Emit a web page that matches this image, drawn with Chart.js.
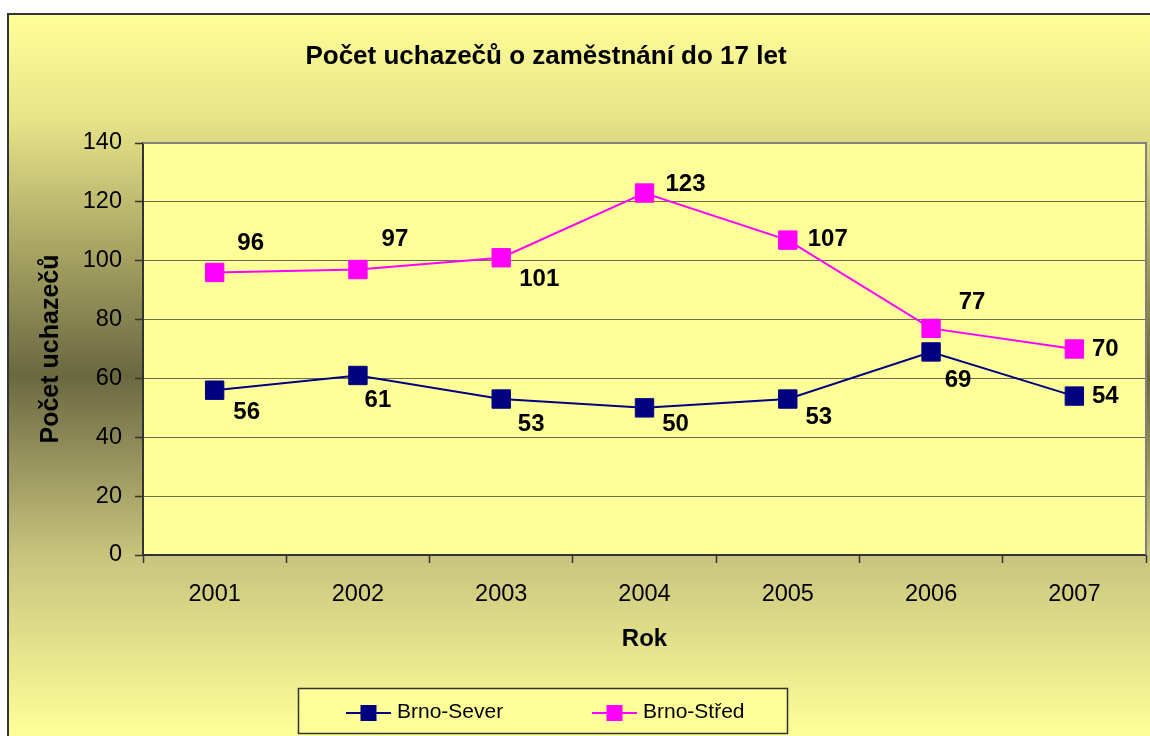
<!DOCTYPE html>
<html>
<head>
<meta charset="utf-8">
<script src="https://cdn.jsdelivr.net/npm/chart.js@4.4.1/dist/chart.umd.min.js"></script>
<style>
  html, body { margin: 0; padding: 0; background: #fff; }
  #wrap { width: 1150px; height: 736px; }
</style>
</head>
<body>
<div id="wrap"><canvas id="myChart" width="1150" height="736"></canvas></div>
<script>
// data
const years = ['2001', '2002', '2003', '2004', '2005', '2006', '2007'];
const brnoSever = [56, 61, 53, 50, 53, 69, 54];
const brnoStred = [96, 97, 101, 123, 107, 77, 70];
const yTicks = [0, 20, 40, 60, 80, 100, 120, 140];

const FONT = 'Arial, "Liberation Sans", sans-serif';

// where each value label sits relative to its point (dx, dy)
const labelShift = [
    [[32, 22], [20, 25], [30, 25], [31, 17], [31, 18], [27, 28], [31, 0]],
    [[36, -29], [37, -30], [38, 22], [41, -9], [40, -1], [41, -26], [31, 0]]
];

const backgroundPlugin = {
    id: 'background',
    beforeDraw(chart) {
        const ctx = chart.ctx;
        const a = chart.chartArea;
        ctx.save();
        let g = ctx.createLinearGradient(0, 14, 0, 736);
        g.addColorStop(0, '#FFFF99');
        g.addColorStop(0.15, '#E6E288');
        g.addColorStop(0.5, '#6A6840');
        g.addColorStop(0.75, '#C8C47E');
        g.addColorStop(1, '#FFFF99');
        ctx.fillStyle = g;
        ctx.fillRect(8, 14, chart.width - 8, chart.height - 14);

        ctx.strokeStyle = '#333333';
        ctx.lineWidth = 2;
        ctx.beginPath();
        ctx.moveTo(8, chart.height);
        ctx.lineTo(8, 14);
        ctx.lineTo(chart.width, 14);
        ctx.stroke();

        ctx.fillStyle = '#FFFF99';
        ctx.fillRect(a.left, a.top, a.right - a.left, a.bottom - a.top);

        // title
        ctx.fillStyle = '#000';
        ctx.font = 'bold 26px ' + FONT;
        ctx.textAlign = 'center';
        ctx.textBaseline = 'middle';
        ctx.fillText('Počet uchazečů o zaměstnání do 17 let', 546, 57);
        ctx.restore();
    },
    beforeDatasetsDraw(chart) {
        const ctx = chart.ctx;
        const a = chart.chartArea;
        ctx.save();
        ctx.strokeStyle = '#808080';
        ctx.lineWidth = 2;
        ctx.beginPath();
        ctx.moveTo(a.left, a.top);
        ctx.lineTo(a.right, a.top);
        ctx.lineTo(a.right, a.bottom);
        ctx.stroke();
        ctx.restore();
    }
};

const labelPlugin = {
    id: 'valueLabels',
    afterDatasetsDraw(chart) {
        const ctx = chart.ctx;
        ctx.save();
        ctx.font = 'bold 24px ' + FONT;
        ctx.fillStyle = '#000';
        ctx.textAlign = 'center';
        ctx.textBaseline = 'middle';
        chart.data.datasets.forEach((ds, i) => {
            const meta = chart.getDatasetMeta(i);
            meta.data.forEach((pt, j) => {
                const s = labelShift[i][j];
                ctx.fillText(String(ds.data[j]), pt.x + s[0], pt.y + s[1]);
            });
        });
        ctx.restore();
    }
};

const legendPlugin = {
    id: 'boxLegend',
    afterDraw(chart) {
        const ctx = chart.ctx;
        ctx.save();
        ctx.fillStyle = '#FFFF99';
        ctx.fillRect(298, 688, 490, 46);
        ctx.strokeStyle = '#333333';
        ctx.lineWidth = 1.5;
        ctx.strokeRect(298.5, 688.5, 489, 45);

        ctx.font = '21px ' + FONT;
        ctx.textAlign = 'left';
        ctx.textBaseline = 'middle';
        chart.data.datasets.forEach((ds, i) => {
            const x0 = 346 + i * 246;
            const y = 713;
            ctx.strokeStyle = ds.borderColor;
            ctx.lineWidth = 2;
            ctx.beginPath();
            ctx.moveTo(x0, y);
            ctx.lineTo(x0 + 45, y);
            ctx.stroke();
            ctx.fillStyle = ds.backgroundColor;
            ctx.fillRect(x0 + 14.5, y - 8, 16, 16);
            ctx.fillStyle = '#000';
            ctx.fillText(ds.label, x0 + 51, y - 1);
        });
        ctx.restore();
    }
};

const ctx = document.getElementById('myChart');

new Chart(ctx, {
    type: 'line',
    data: {
        labels: years,
        datasets: [{
            label: 'Brno-Sever',
            data: brnoSever,
            borderColor: '#000080',
            backgroundColor: '#000080',
            borderWidth: 2,
            pointStyle: 'rect',
            pointRadius: 13,
            pointBorderWidth: 1,
            tension: 0
        }, {
            label: 'Brno-Střed',
            data: brnoStred,
            borderColor: '#FF00FF',
            backgroundColor: '#FF00FF',
            borderWidth: 2,
            pointStyle: 'rect',
            pointRadius: 13,
            pointBorderWidth: 1,
            tension: 0
        }]
    },
    options: {
        responsive: false,
        animation: false,
        layout: { autoPadding: false, padding: { left: 8, top: 143, right: 4, bottom: 82 } },
        plugins: {
            legend: { display: false },
            title: { display: false },
            tooltip: { enabled: false }
        },
        scales: {
            x: {
                offset: true,
                grid: { offset: true, drawOnChartArea: false, tickLength: 8, tickColor: '#333333', tickWidth: 1.5 },
                border: { color: '#333333', width: 2 },
                ticks: { color: '#000', padding: 17, font: { family: FONT, size: 23.5 } },
                title: { display: true, text: 'Rok', color: '#000', padding: 0, font: { family: FONT, size: 24, weight: 'bold' } },
                afterFit: s => { s.height = 99; s.paddingLeft = 0; s.paddingRight = 0; }
            },
            y: {
                min: 0,
                max: 140,
                afterBuildTicks: s => { s.ticks = yTicks.map(v => ({ value: v })); },
                grid: { color: '#6E6E50', lineWidth: 1, tickLength: 8, tickColor: '#333333', tickWidth: 1.5 },
                border: { color: '#333333', width: 2 },
                ticks: { color: '#000', padding: 13, font: { family: FONT, size: 23.5 } },
                title: { display: true, text: 'Počet uchazečů', color: '#000', padding: { top: 28, bottom: 0 }, font: { family: FONT, size: 25, weight: 'bold' } },
                afterFit: s => { s.width = 135; s.paddingTop = 0; s.paddingBottom = 0; }
            }
        }
    },
    plugins: [backgroundPlugin, labelPlugin, legendPlugin]
});
</script>
</body>
</html>
